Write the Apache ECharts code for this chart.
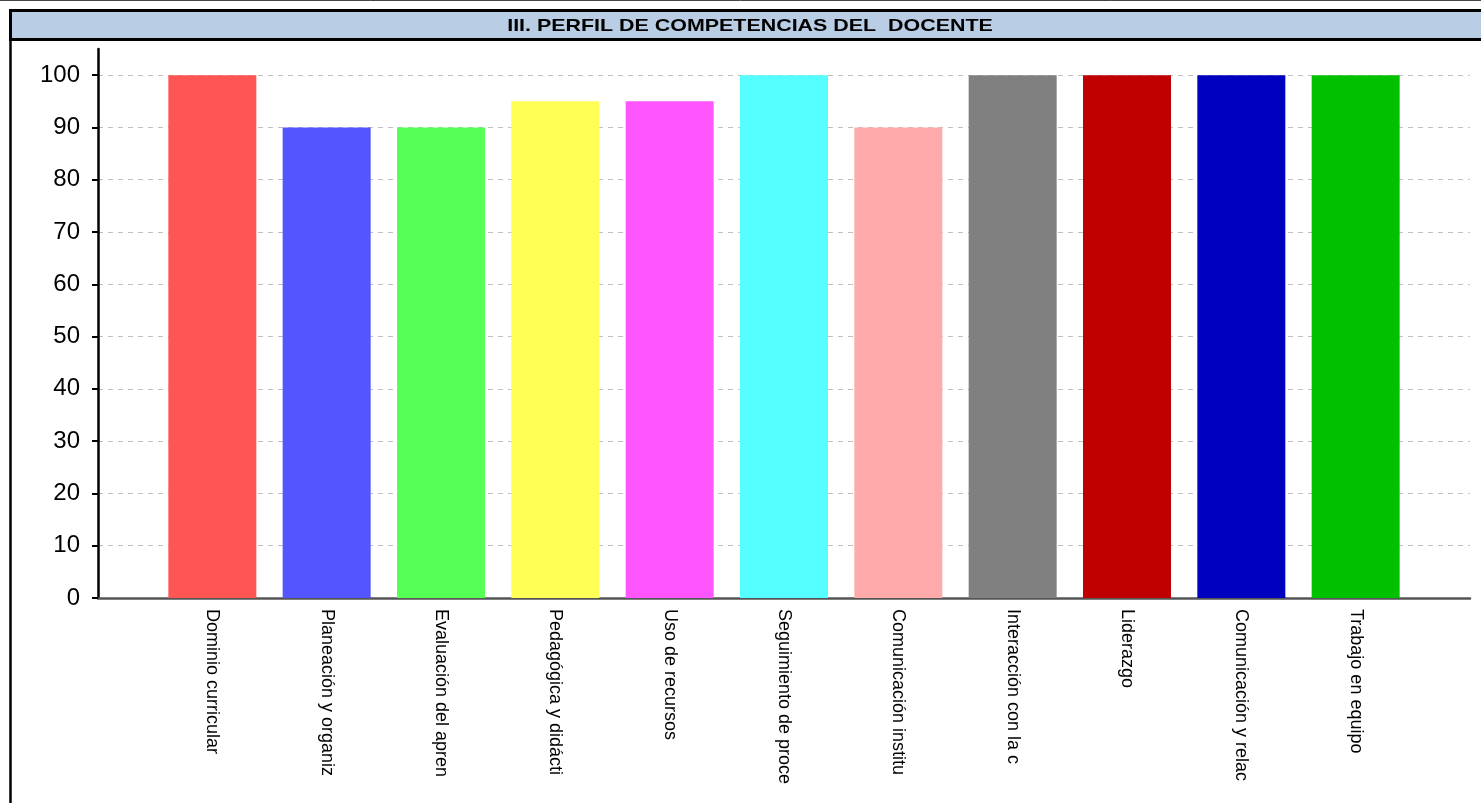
<!DOCTYPE html>
<html>
<head>
<meta charset="utf-8">
<title>Perfil de competencias del docente</title>
<script src="https://cdn.jsdelivr.net/npm/echarts@6/dist/echarts.min.js"></script>
<style>
  html, body { margin: 0; padding: 0; background: #fff; }
  #chart { width: 1481px; height: 803px; }
</style>
</head>
<body>
<div id="chart"></div>
<script>
// ========================
// Datos del gráfico
// ========================
const tituloTexto = 'III. PERFIL DE COMPETENCIAS DEL  DOCENTE';

const competencias = [
  'Dominio curricular',
  'Planeación y organiz',
  'Evaluación del apren',
  'Pedagógica y didácti',
  'Uso de recursos',
  'Seguimiento de proce',
  'Comunicación institu',
  'Interacción con la c',
  'Liderazgo',
  'Comunicación y relac',
  'Trabajo en equipo'
];

const puntajes = [100, 90, 90, 95, 95, 100, 90, 100, 100, 100, 100];

const coloresBarras = [
  '#FF5555', '#5555FF', '#55FF55', '#FFFF55', '#FF55FF', '#55FFFF',
  '#FFAAAA', '#808080', '#C00000', '#0000C0', '#00C000'
];

// ========================
// Construcción del gráfico
// ========================
const chart = echarts.init(document.getElementById('chart'));

// huecos vacíos al inicio y al final del eje (como en la hoja original)
const categorias = [''].concat(competencias, ['']);
const datos = [null].concat(
  puntajes.map((v, i) => ({ value: v, itemStyle: { color: coloresBarras[i] } })),
  [null]
);

const fuente = '"Liberation Sans", Arial, sans-serif';

chart.setOption({
  animation: false,
  backgroundColor: '#fff',
  textStyle: { fontFamily: fuente },
  graphic: [
    // línea superior
    { type: 'line', shape: { x1: 0, y1: 0.5, x2: 1481, y2: 0.5 }, style: { stroke: '#444', lineWidth: 1 } },
    // borde izquierdo
    { type: 'line', shape: { x1: 10.5, y1: 10, x2: 10.5, y2: 803 }, style: { stroke: '#000', lineWidth: 2.5 } },
    // cabecera
    {
      type: 'rect',
      shape: { x: 10.5, y: 10.5, width: 1490, height: 29 },
      style: { fill: '#B9CDE5', stroke: '#000', lineWidth: 3 }
    },
    {
      type: 'text',
      x: 750, y: 26,
      scaleX: 1.26,
      style: {
        text: tituloTexto,
        fontFamily: fuente,
        fontWeight: 'bold',
        fontSize: 17,
        fill: '#000',
        textAlign: 'center',
        textVerticalAlign: 'middle'
      }
    }
  ],
  grid: { left: 98, right: 11, top: 49, bottom: 205, containLabel: false },
  xAxis: {
    type: 'category',
    data: categorias,
    boundaryGap: false,
    axisLine: { lineStyle: { color: '#555', width: 2.5 } },
    axisTick: { show: false },
    splitLine: { show: false },
    axisLabel: {
      interval: 0,
      rotate: -90,
      margin: 11,
      fontSize: 18,
      color: '#000',
      fontFamily: fuente
    }
  },
  yAxis: {
    type: 'value',
    min: 0,
    max: 105,
    interval: 10,
    axisLine: { show: true, lineStyle: { color: '#000', width: 2.5 } },
    axisTick: { show: true, length: 6, lineStyle: { color: '#000', width: 2 } },
    axisLabel: {
      margin: 18,
      fontSize: 24,
      color: '#000',
      fontFamily: fuente,
      showMaxLabel: false,
      formatter: v => (v > 100 ? '' : String(v))
    },
    splitLine: {
      show: true,
      showMaxLine: false,
      lineStyle: { color: '#C0C0C0', type: [5, 5], width: 1 }
    }
  },
  series: [{
    type: 'bar',
    data: datos,
    barWidth: 88
  }]
});
</script>
</body>
</html>
